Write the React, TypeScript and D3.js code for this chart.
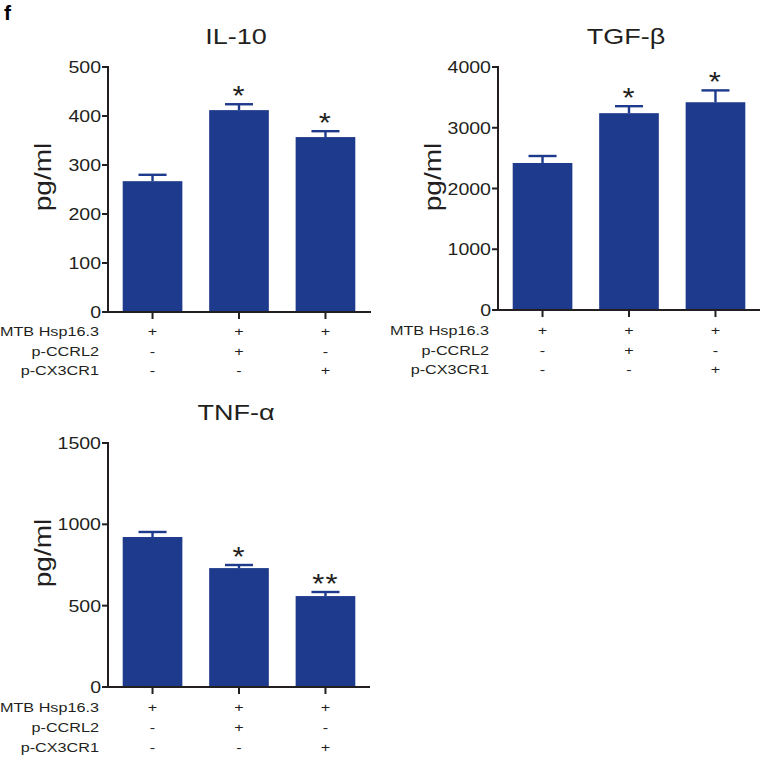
import React from "react";
import * as d3 from "d3";

const GROUPS = ["g1", "g2", "g3"];
const ROW_LABELS = ["MTB Hsp16.3", "p-CCRL2", "p-CX3CR1"];
const ROW_SIGNS = [
  ["+", "+", "+"],
  ["-", "+", "-"],
  ["-", "-", "+"],
];

const IL10_VALUES = [267, 412, 357];
const IL10_ERRORS = [13, 12, 12];
const IL10_STARS = ["", "*", "*"];
const IL10_TICKS = [0, 100, 200, 300, 400, 500];

const TGF_VALUES = [2420, 3240, 3420];
const TGF_ERRORS = [115, 115, 195];
const TGF_STARS = ["", "*", "*"];
const TGF_TICKS = [0, 1000, 2000, 3000, 4000];

const TNF_VALUES = [922, 731, 559];
const TNF_ERRORS = [31, 19, 25];
const TNF_STARS = ["", "*", "**"];
const TNF_TICKS = [0, 500, 1000, 1500];

const BLUE = "#1e3a8c";
const INK = "#231f20";
const FONT = "'Liberation Sans', Arial, Helvetica, sans-serif";

type PanelProps = {
  title: string;
  values: number[];
  errors: number[];
  stars: string[];
  ticks: number[];
  axisX: number;
  yTop: number;
  yBottom: number;
  xEnd: number;
  rowOffsets: number[];
};

function Panel(p: PanelProps) {
  const yMax = p.ticks[p.ticks.length - 1];
  const y = d3.scaleLinear().domain([0, yMax]).range([p.yBottom, p.yTop]);
  const x = d3
    .scaleBand<string>()
    .domain(GROUPS)
    .range([p.axisX, p.axisX + 262])
    .paddingInner(0.31)
    .paddingOuter(0.17);
  const bw = x.bandwidth();
  const cx = (g: string) => (x(g) as number) + bw / 2;
  const capW = bw * 0.47;
  const mid = cx(GROUPS[1]);
  return (
    <g fontFamily={FONT}>
      <g transform={`translate(${mid - 3},${p.yTop - 23}) scale(1.2,1)`}>
        <text textAnchor="middle" fontSize={22.5} fill={INK}>
          {p.title}
        </text>
      </g>
      <g transform={`translate(${p.axisX - 57},${p.yTop + 110}) scale(0.85,1) rotate(-90)`}>
        <text textAnchor="middle" fontSize={28} fill={INK}>
          pg/ml
        </text>
      </g>
      {GROUPS.map((g, i) => (
        <rect
          key={g}
          x={x(g)}
          y={y(p.values[i])}
          width={bw}
          height={p.yBottom - y(p.values[i])}
          fill={BLUE}
        />
      ))}
      {GROUPS.map((g, i) => {
        const top = y(p.values[i] + p.errors[i]);
        return (
          <g key={g} stroke={BLUE} strokeWidth={2.4}>
            <line x1={cx(g)} x2={cx(g)} y1={y(p.values[i])} y2={top} />
            <line x1={cx(g) - capW / 2} x2={cx(g) + capW / 2} y1={top} y2={top} />
          </g>
        );
      })}
      {GROUPS.map((g, i) =>
        p.stars[i] ? (
          <g key={g} transform={`translate(${cx(g)},${y(p.values[i] + p.errors[i]) + 1}) scale(1.15,1)`}>
            <text textAnchor="middle" fontSize={27} fill={INK} letterSpacing={1}>
              {p.stars[i]}
            </text>
          </g>
        ) : null
      )}
      <line x1={p.axisX} x2={p.axisX} y1={p.yTop - 1} y2={p.yBottom} stroke={INK} strokeWidth={2} />
      {p.ticks.map((t) => (
        <g key={t}>
          <line x1={p.axisX - 6} x2={p.axisX} y1={y(t)} y2={y(t)} stroke={INK} strokeWidth={2} />
          <g transform={`translate(${p.axisX - 7},${y(t)}) scale(1.15,1)`}>
            <text textAnchor="end" dy="0.36em" fontSize={17} fill={INK}>
              {t}
            </text>
          </g>
        </g>
      ))}
      <line x1={p.axisX - 1} x2={p.xEnd} y1={p.yBottom} y2={p.yBottom} stroke={INK} strokeWidth={2} />
      {GROUPS.map((g) => (
        <line key={g} x1={cx(g)} x2={cx(g)} y1={p.yBottom} y2={p.yBottom + 7} stroke={INK} strokeWidth={2} />
      ))}
      {ROW_LABELS.map((lab, r) => (
        <g key={lab}>
          <g transform={`translate(${p.axisX - 9},${p.yBottom + p.rowOffsets[r]}) scale(1.2,1)`}>
            <text textAnchor="end" fontSize={13.5} fill={INK}>
              {lab}
            </text>
          </g>
          {GROUPS.map((g, i) => (
            <g key={g} transform={`translate(${cx(g)},${p.yBottom + p.rowOffsets[r]}) scale(1.2,1)`}>
              <text textAnchor="middle" fontSize={13.5} fill={INK}>
                {ROW_SIGNS[r][i]}
              </text>
            </g>
          ))}
        </g>
      ))}
    </g>
  );
}

export default function App() {
  return (
    <svg
      width={762}
      height={757}
      style={{ position: "absolute", left: 0, top: 0, background: "#fff" }}
    >
      <rect width={762} height={757} fill="#fff" />
      <text x={4} y={20} fontFamily={FONT} fontWeight="bold" fontSize={21} fill="#000">
        f
      </text>
      <Panel
        title="IL-10"
        values={IL10_VALUES}
        errors={IL10_ERRORS}
        stars={IL10_STARS}
        ticks={IL10_TICKS}
        axisX={108}
        yTop={67}
        yBottom={312}
        xEnd={371}
        rowOffsets={[24, 44, 63]}
      />
      <Panel
        title="TGF-β"
        values={TGF_VALUES}
        errors={TGF_ERRORS}
        stars={TGF_STARS}
        ticks={TGF_TICKS}
        axisX={498}
        yTop={67}
        yBottom={310}
        xEnd={760}
        rowOffsets={[25, 45, 64]}
      />
      <Panel
        title="TNF-α"
        values={TNF_VALUES}
        errors={TNF_ERRORS}
        stars={TNF_STARS}
        ticks={TNF_TICKS}
        axisX={108}
        yTop={443}
        yBottom={687}
        xEnd={370}
        rowOffsets={[25, 45, 65]}
      />
    </svg>
  );
}
